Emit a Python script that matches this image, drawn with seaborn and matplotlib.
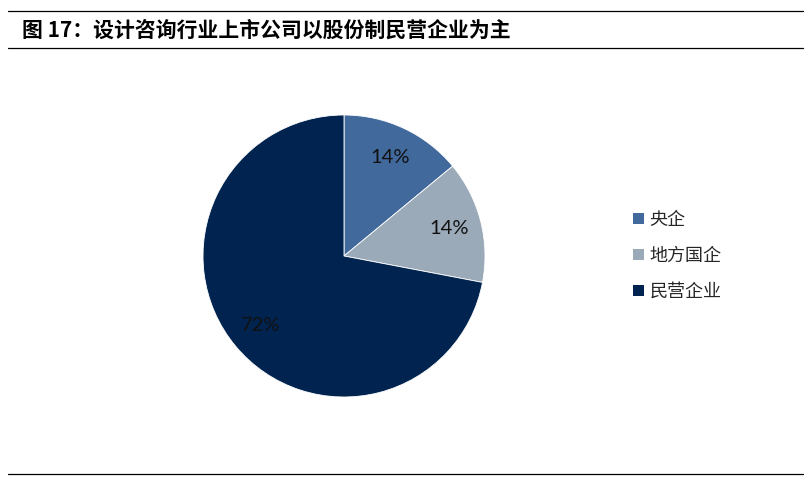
import seaborn as sns
import matplotlib.pyplot as plt
from matplotlib.lines import Line2D
from matplotlib.patches import Patch

# data
labels = ["央企", "地方国企", "民营企业"]
shares = [14, 14, 72]
colors = ["#41699C", "#9AAAB9", "#00244F"]

sns.set_theme(style="white")
plt.rcParams['font.family'] = ['Noto Sans CJK SC', 'DejaVu Sans']

W, H = 806, 480
fig = plt.figure(figsize=(W / 100, H / 100), dpi=100)

# pie axes: centre (344,256), radius 141 px
cx, cy, r = 344, 256, 141
ax = fig.add_axes([(cx - r) / W, (H - cy - r) / H, 2 * r / W, 2 * r / H])
wedges, texts, autotexts = ax.pie(
    shares, colors=sns.color_palette(colors), startangle=90, counterclock=False,
    autopct="%d%%", pctdistance=0.77,
    wedgeprops=dict(edgecolor="white", linewidth=0.6),
    textprops=dict(fontsize=14.5, color="#111111", family=["Lato", "DejaVu Sans"]))
ax.set_xlim(-1, 1)
ax.set_ylim(-1, 1)
ax.set_aspect("equal")

handles = [Patch(facecolor=c, edgecolor="none") for c in colors]
fig.legend(handles, labels, loc="center left", bbox_to_anchor=(624 / W, 1 - 256 / H),
           frameon=False, fontsize=13, handlelength=0.6, handleheight=0.6,
           handletextpad=0.3, labelspacing=1.0, borderpad=0)

# title and rules
fig.text(22 / W, 1 - 30 / H, "图 17：设计咨询行业上市公司以股份制民营企业为主",
         fontsize=15, fontweight="bold", va="center", ha="left", color="black")
for y in (11, 47.5, 474):
    fig.add_artist(Line2D([8 / W, 803 / W], [1 - y / H, 1 - y / H],
                          transform=fig.transFigure, color="black", linewidth=0.9))

fig.savefig("out.png", dpi=100)
